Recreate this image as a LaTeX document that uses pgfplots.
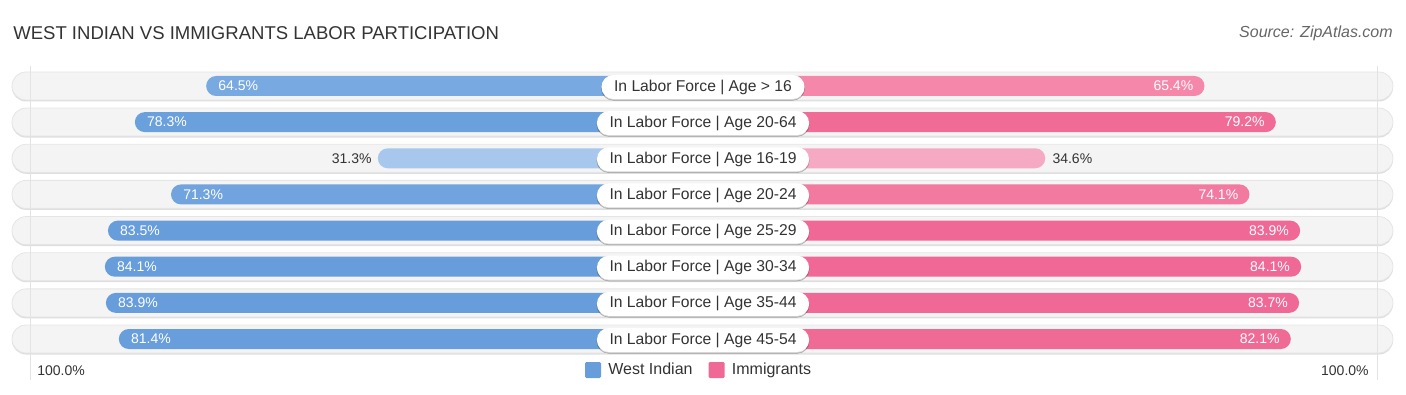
\documentclass[border=0pt]{standalone}
\usepackage{pgfplots}
\pgfplotsset{compat=1.18}
\usepackage{pgfplotstable}
\usepackage{fontspec}
\setmainfont{Liberation Sans}
\usetikzlibrary{shadows}

\definecolor{wi0}{HTML}{78A9E0}
\definecolor{wi1}{HTML}{6AA0DC}
\definecolor{wi2}{HTML}{A8C7EC}
\definecolor{wi3}{HTML}{71A4DE}
\definecolor{wi4}{HTML}{679DDB}
\definecolor{wi5}{HTML}{679DDB}
\definecolor{wi6}{HTML}{679DDB}
\definecolor{wi7}{HTML}{699EDC}
\definecolor{im0}{HTML}{F588AA}
\definecolor{im1}{HTML}{F06C97}
\definecolor{im2}{HTML}{F6A9C3}
\definecolor{im3}{HTML}{F27AA1}
\definecolor{im4}{HTML}{F06895}
\definecolor{im5}{HTML}{F06895}
\definecolor{im6}{HTML}{F06895}
\definecolor{im7}{HTML}{F06A96}
\definecolor{txt}{HTML}{333333}

\pgfplotstableread{
y wi im lbl
86.0 64.5 65.4 {In Labor Force | Age > 16}
122.1 78.3 79.2 {In Labor Force | Age 20-64}
158.3 31.3 34.6 {In Labor Force | Age 16-19}
194.4 71.3 74.1 {In Labor Force | Age 20-24}
230.6 83.5 83.9 {In Labor Force | Age 25-29}
266.7 84.1 84.1 {In Labor Force | Age 30-34}
302.9 83.9 83.7 {In Labor Force | Age 35-44}
339.0 81.4 82.1 {In Labor Force | Age 45-54}
}\data

\newcommand{\valfont}{\fontsize{10.5}{12}\selectfont}
\pgfplotsset{
  inL/.style={every node near coord/.append style={anchor=west, xshift=9pt, text=white, inner sep=0pt, font=\valfont}},
  outL/.style={every node near coord/.append style={anchor=east, xshift=-4.5pt, text=txt, inner sep=0pt, font=\valfont}},
  inR/.style={every node near coord/.append style={anchor=east, xshift=-8.25pt, text=white, inner sep=0pt, font=\valfont}},
  outR/.style={every node near coord/.append style={anchor=west, xshift=5.25pt, text=txt, inner sep=0pt, font=\valfont}},
  lblL0/.style={inL}, lblL1/.style={inL}, lblL2/.style={outL}, lblL3/.style={inL},
  lblL4/.style={inL}, lblL5/.style={inL}, lblL6/.style={inL}, lblL7/.style={inL},
  lblR0/.style={inR}, lblR1/.style={inR}, lblR2/.style={outR}, lblR3/.style={inR},
  lblR4/.style={inR}, lblR5/.style={inR}, lblR6/.style={inR}, lblR7/.style={inR},
}

\begin{document}
\begin{tikzpicture}
\begin{axis}[
  width=1054.5pt, height=296.25pt, scale only axis,
  xmin=-135.98, xmax=135.98, ymin=0, ymax=395, y dir=reverse,
  axis lines=none, clip=false,
  /pgf/number format/assume math mode=true,
  legend style={at={(axis cs:-0.7,370)}, anchor=center, draw=none, fill=none,
    legend columns=2, font=\fontsize{12}{14}\selectfont, text=txt,
    /tikz/every odd column/.append style={column sep=3.5pt},
    /tikz/every even column/.append style={column sep=10pt}},
  legend image code/.code={\fill[#1, rounded corners=1pt] (0pt,-6pt) rectangle (12pt,6pt);},
]
% bounding box
\draw[draw=none] (rel axis cs:0,0) rectangle (rel axis cs:1,1);

% background pills
\pgfplotsinvokeforeach{86.0,122.1,158.3,194.4,230.6,266.7,302.9,339.0}{
  \fill[black!13, rounded corners=10.5pt] (axis cs:-133.66,#1-13) rectangle (axis cs:133.46,#1+15.5);
  \fill[black!4.5, draw=black!10, line width=0.6pt, rounded corners=10.5pt] (axis cs:-133.66,#1-14) rectangle (axis cs:133.46,#1+14);
}
% 100% guide lines
\draw[black!11, line width=0.75pt] (axis cs:-130.17,66) -- (axis cs:-130.17,380);
\draw[black!11, line width=0.75pt] (axis cs:130.37,66) -- (axis cs:130.37,380);

% bars
\pgfplotsinvokeforeach{0,...,7}{
  \addplot[forget plot, xbar, bar shift=0pt, bar width=20, draw=none, fill=wi#1,
    rounded corners=7.5pt,
    restrict expr to domain={\coordindex}{#1:#1},
    point meta=\thisrow{wi},
    nodes near coords={\pgfmathprintnumber[fixed,fixed zerofill,precision=1]{\pgfplotspointmeta}\%},
    lblL#1]
    table[x expr=-\thisrow{wi}-31.6, y=y]{\data};
  \addplot[forget plot, xbar, bar shift=0pt, bar width=20, draw=none, fill=im#1,
    rounded corners=7.5pt,
    restrict expr to domain={\coordindex}{#1:#1},
    point meta=\thisrow{im},
    nodes near coords={\pgfmathprintnumber[fixed,fixed zerofill,precision=1]{\pgfplotspointmeta}\%},
    lblR#1]
    table[x expr=\thisrow{im}+31.6, y=y]{\data};
}

% centre labels
\addplot[forget plot, only marks, mark=none, point meta=explicit symbolic,
  nodes near coords,
  every node near coord/.append style={anchor=center, fill=white, rounded corners=9pt,
    minimum height=18pt, inner xsep=9.5pt, inner ysep=0pt, text=txt, yshift=-0.75pt,
    font=\fontsize{11.75}{13}\selectfont,
    drop shadow={opacity=0.25, shadow xshift=0pt, shadow yshift=-1pt}}]
  table[x expr=0, y=y, meta=lbl]{\data};

% texts
\node[anchor=west, text=txt, font=\fontsize{13.9}{16}\selectfont, inner sep=0pt] at (axis cs:-133.46,33.5) {WEST INDIAN VS IMMIGRANTS LABOR PARTICIPATION};
\node[anchor=east, text=black!60, font=\fontsize{12}{14}\selectfont\itshape, inner sep=0pt] at (axis cs:133.46,33.5) {Source: ZipAtlas.com};
\node[anchor=west, text=txt, font=\fontsize{10.5}{12}\selectfont, inner sep=0pt] at (axis cs:-128.8,371) {100.0\%};
\node[anchor=east, text=txt, font=\fontsize{10.5}{12}\selectfont, inner sep=0pt] at (axis cs:128.8,371) {100.0\%};

\addlegendimage{fill=wi4, draw=none}
\addlegendentry{West Indian}
\addlegendimage{fill=im4, draw=none}
\addlegendentry{Immigrants}
\end{axis}
\end{tikzpicture}
\end{document}
